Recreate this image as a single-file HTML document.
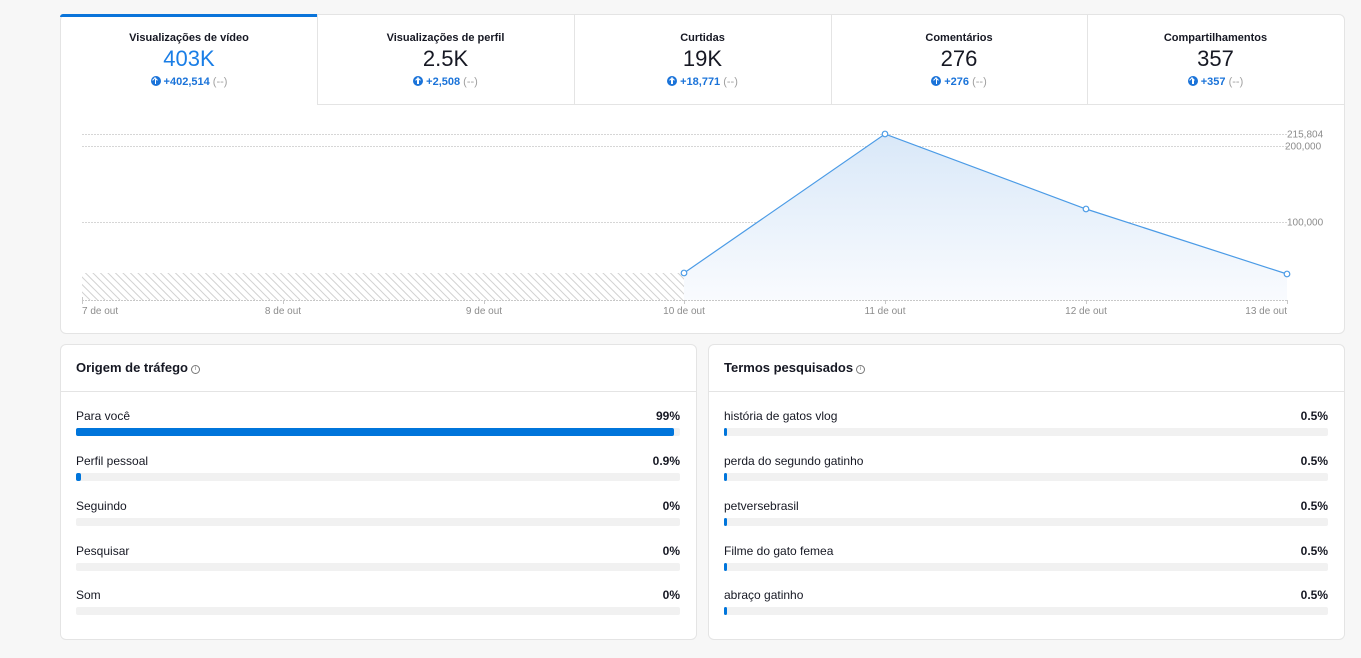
<!DOCTYPE html>
<html>
<head>
<meta charset="utf-8">
<style>
  html,body{margin:0;padding:0;}
  body{width:1361px;height:658px;background:#f7f7f7;position:relative;overflow:hidden;font-family:"Liberation Sans",Arial,sans-serif;color:#161823;}
  .card{position:absolute;background:#fff;border:1px solid #e4e4e4;border-radius:6px;box-sizing:border-box;}
  .tab{position:absolute;top:0;height:90px;box-sizing:border-box;text-align:center;}
  .tab .t{position:absolute;left:0;right:0;top:16px;font-size:11px;font-weight:bold;line-height:14px;}
  .tab .v{position:absolute;left:0;right:0;top:31px;font-size:22px;line-height:26px;}
  .tab .d{position:absolute;left:0;right:0;top:60px;font-size:11px;line-height:14px;color:#1a73d9;font-weight:bold;}
  .tab .d .g{color:#a0a0a0;font-weight:normal;}
  .ic{display:inline-block;width:10px;height:10px;border-radius:50%;background:#1a73d9;vertical-align:-1px;margin-right:3px;position:relative;}
  .ic:before{content:"";position:absolute;left:4.3px;top:3px;width:1.5px;height:5px;background:#fff;}
  .ic:after{content:"";position:absolute;left:2.6px;top:2.4px;width:3px;height:3px;border-left:1.5px solid #fff;border-top:1.5px solid #fff;transform:rotate(45deg);}
  .sep{position:absolute;top:0;width:1px;height:90px;background:#e4e4e4;}
  .title{position:absolute;left:15px;top:15px;font-size:13px;font-weight:bold;line-height:16px;}
  .info{display:inline-block;width:7px;height:7px;border:1px solid #777;border-radius:50%;font-size:6px;line-height:7px;text-align:center;color:#777;vertical-align:1px;margin-left:3px;font-weight:normal;position:relative;top:-1px;}
  .hr{position:absolute;left:0;right:0;top:46px;height:1px;background:#e4e4e4;}
  .row{position:absolute;left:15px;right:16px;height:30px;}
  .row .l{position:absolute;left:0;top:0;font-size:12px;line-height:14px;}
  .row .p{position:absolute;right:0;top:0;font-size:12px;line-height:14px;font-weight:bold;}
  .row .b{position:absolute;left:0;right:0;top:19px;height:8px;background:#f1f1f1;border-radius:2px;}
  .row .f{position:absolute;left:0;top:0;height:8px;background:#0075db;border-radius:2px;}
</style>
</head>
<body>

<!-- Top card -->
<div class="card" style="left:60px;top:14px;width:1285px;height:320px;">
  <div style="position:absolute;left:-1px;top:-1px;width:257px;height:3px;background:#0a74da;border-radius:3px 0 0 0;"></div>
  <div style="position:absolute;left:256px;right:0;top:89px;height:1px;background:#e4e4e4;"></div>
  <div class="sep" style="left:256px;"></div>
  <div class="sep" style="left:513px;"></div>
  <div class="sep" style="left:770px;"></div>
  <div class="sep" style="left:1026px;"></div>

  <div class="tab" style="left:0;width:256px;">
    <div class="t">Visualizações de vídeo</div>
    <div class="v" style="color:#1a7ee6;">403K</div>
    <div class="d"><span class="ic"></span>+402,514 <span class="g">(--)</span></div>
  </div>
  <div class="tab" style="left:256px;width:257px;">
    <div class="t">Visualizações de perfil</div>
    <div class="v">2.5K</div>
    <div class="d"><span class="ic"></span>+2,508 <span class="g">(--)</span></div>
  </div>
  <div class="tab" style="left:513px;width:257px;">
    <div class="t">Curtidas</div>
    <div class="v">19K</div>
    <div class="d"><span class="ic"></span>+18,771 <span class="g">(--)</span></div>
  </div>
  <div class="tab" style="left:770px;width:256px;">
    <div class="t">Comentários</div>
    <div class="v">276</div>
    <div class="d"><span class="ic"></span>+276 <span class="g">(--)</span></div>
  </div>
  <div class="tab" style="left:1026px;width:257px;">
    <div class="t">Compartilhamentos</div>
    <div class="v">357</div>
    <div class="d"><span class="ic"></span>+357 <span class="g">(--)</span></div>
  </div>
</div>

<!-- Chart -->
<svg width="1361" height="658" style="position:absolute;left:0;top:0;" xmlns="http://www.w3.org/2000/svg">
  <defs>
    <linearGradient id="gf" x1="0" y1="0" x2="0" y2="1">
      <stop offset="0" stop-color="#d9e8f8"/>
      <stop offset="1" stop-color="#f9fbfe"/>
    </linearGradient>
    <pattern id="hp" patternUnits="userSpaceOnUse" width="7.5" height="7.5">
      <line x1="0" y1="0" x2="7.5" y2="7.5" stroke="#d2d2d2" stroke-width="1"/>
      <line x1="-1" y1="6.5" x2="1" y2="8.5" stroke="#d2d2d2" stroke-width="1"/>
      <line x1="6.5" y1="-1" x2="8.5" y2="1" stroke="#d2d2d2" stroke-width="1"/>
    </pattern>
  </defs>
  <!-- grid -->
  <g stroke="#d6d6d6" stroke-width="1" stroke-dasharray="2,1">
    <line x1="82" y1="134.5" x2="1287" y2="134.5"/>
    <line x1="82" y1="146.5" x2="1287" y2="146.5"/>
    <line x1="82" y1="222.5" x2="1287" y2="222.5"/>
  </g>
  <g font-family="Liberation Sans, Arial, sans-serif" font-size="10" fill="#8c8c8c">
    <text x="1287" y="137.5">215,804</text>
    <text x="1285" y="149.5">200,000</text>
    <text x="1287" y="225.5">100,000</text>
  </g>
  <!-- hatch -->
  <rect x="82" y="273" width="602" height="27" fill="url(#hp)"/>
  <!-- area -->
  <polygon points="684,273 885,134 1086,209 1287,274 1287,300 684,300" fill="url(#gf)"/>
  <polyline points="684,273 885,134 1086,209 1287,274" fill="none" stroke="#4b9be6" stroke-width="1.2"/>
  <!-- baseline -->
  <line x1="82" y1="300.5" x2="1287" y2="300.5" stroke="#c8c8c8" stroke-width="1" stroke-dasharray="2,1"/>
  <g stroke="#c8c8c8" stroke-width="1">
    <line x1="82.5" y1="297" x2="82.5" y2="304"/>
    <line x1="283.5" y1="300" x2="283.5" y2="304"/>
    <line x1="484.5" y1="300" x2="484.5" y2="304"/>
    <line x1="684.5" y1="300" x2="684.5" y2="304"/>
    <line x1="885.5" y1="300" x2="885.5" y2="304"/>
    <line x1="1086.5" y1="300" x2="1086.5" y2="304"/>
    <line x1="1287.5" y1="300" x2="1287.5" y2="304"/>
  </g>
  <g fill="#fff" stroke="#4b9be6" stroke-width="1.2">
    <circle cx="684" cy="273" r="2.8"/>
    <circle cx="885" cy="134" r="2.8"/>
    <circle cx="1086" cy="209" r="2.8"/>
    <circle cx="1287" cy="274" r="2.8"/>
  </g>
  <g font-family="Liberation Sans, Arial, sans-serif" font-size="10" fill="#8c8c8c">
    <text x="82" y="314">7 de out</text>
    <text x="283" y="314" text-anchor="middle">8 de out</text>
    <text x="484" y="314" text-anchor="middle">9 de out</text>
    <text x="684" y="314" text-anchor="middle">10 de out</text>
    <text x="885" y="314" text-anchor="middle">11 de out</text>
    <text x="1086" y="314" text-anchor="middle">12 de out</text>
    <text x="1287" y="314" text-anchor="end">13 de out</text>
  </g>
</svg>

<!-- Left bottom card -->
<div class="card" style="left:60px;top:344px;width:637px;height:296px;">
  <div class="title">Origem de tráfego<span class="info">i</span></div>
  <div class="hr"></div>
  <div class="row" style="top:64px;"><div class="l">Para você</div><div class="p">99%</div><div class="b"><div class="f" style="width:598px;"></div></div></div>
  <div class="row" style="top:109px;"><div class="l">Perfil pessoal</div><div class="p">0.9%</div><div class="b"><div class="f" style="width:5px;"></div></div></div>
  <div class="row" style="top:154px;"><div class="l">Seguindo</div><div class="p">0%</div><div class="b"></div></div>
  <div class="row" style="top:199px;"><div class="l">Pesquisar</div><div class="p">0%</div><div class="b"></div></div>
  <div class="row" style="top:243px;"><div class="l">Som</div><div class="p">0%</div><div class="b"></div></div>
</div>

<!-- Right bottom card -->
<div class="card" style="left:708px;top:344px;width:637px;height:296px;">
  <div class="title">Termos pesquisados<span class="info">i</span></div>
  <div class="hr"></div>
  <div class="row" style="top:64px;"><div class="l">história de gatos vlog</div><div class="p">0.5%</div><div class="b"><div class="f" style="width:3px;"></div></div></div>
  <div class="row" style="top:109px;"><div class="l">perda do segundo gatinho</div><div class="p">0.5%</div><div class="b"><div class="f" style="width:3px;"></div></div></div>
  <div class="row" style="top:154px;"><div class="l">petversebrasil</div><div class="p">0.5%</div><div class="b"><div class="f" style="width:3px;"></div></div></div>
  <div class="row" style="top:199px;"><div class="l">Filme do gato femea</div><div class="p">0.5%</div><div class="b"><div class="f" style="width:3px;"></div></div></div>
  <div class="row" style="top:243px;"><div class="l">abraço gatinho</div><div class="p">0.5%</div><div class="b"><div class="f" style="width:3px;"></div></div></div>
</div>

</body>
</html>
